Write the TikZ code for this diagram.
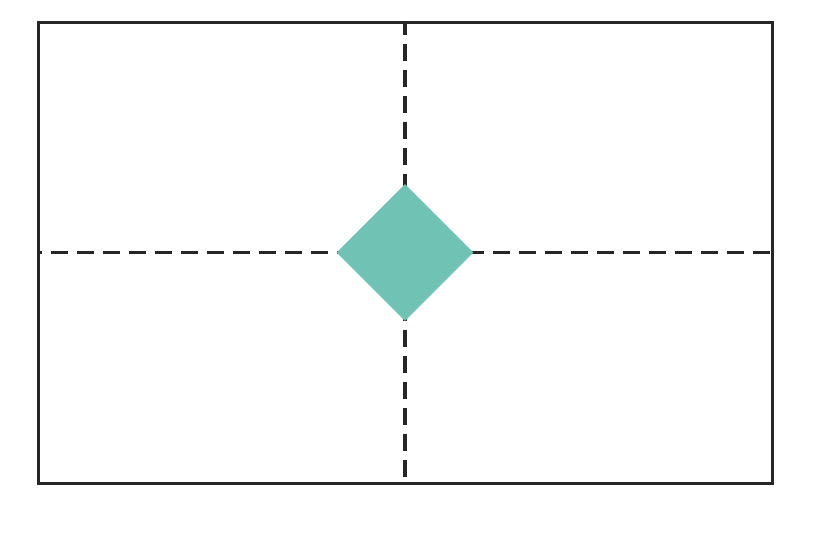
\documentclass[tikz,border=0pt]{standalone}
\usepackage{tikz}
\usetikzlibrary{shapes.geometric}

\definecolor{teal}{HTML}{70C3B4}
\definecolor{framegray}{HTML}{262626}

\begin{document}
\begin{tikzpicture}[x=1pt,y=-1pt]
    \useasboundingbox (0,0) rectangle (822,542);
    \pgfmathsetmacro{\cx}{405}
    \pgfmathsetmacro{\cy}{252.5}
    \node[draw=framegray,line width=3pt,minimum width=734pt,minimum height=461pt,inner sep=0pt] (frame) at (\cx,\cy) {};
    \draw[framegray,line width=3.5pt,dash pattern=on 17pt off 9pt,dash phase=12pt] (frame.west) -- (frame.east);
    \draw[framegray,line width=3.5pt,dash pattern=on 17pt off 9pt,dash phase=3pt] (frame.north) -- (frame.south);
    \node[diamond,fill=teal,minimum width=137pt,minimum height=137pt,inner sep=0pt] (mark) at (\cx,\cy) {};
\end{tikzpicture}
\end{document}
